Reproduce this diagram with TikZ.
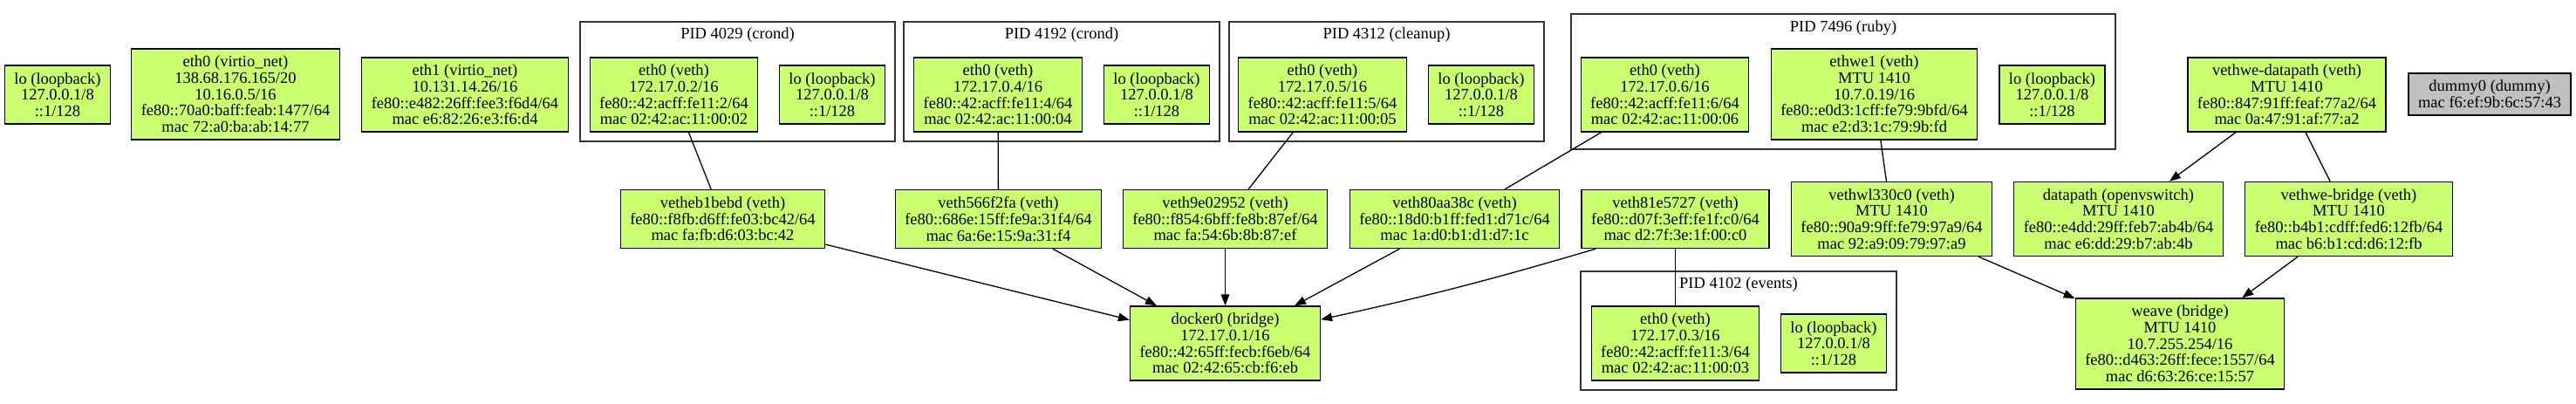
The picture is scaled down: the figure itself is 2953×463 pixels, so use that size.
\documentclass[tikz,border=0pt]{standalone}
\usepackage{fontspec}
\setmainfont{Liberation Serif}
\usepackage{tikz}
\usetikzlibrary{arrows.meta}
\definecolor{ifill}{HTML}{CAFF70}
\definecolor{dfill}{HTML}{C0C0C0}
\definecolor{line}{HTML}{000000}
\definecolor{frame}{HTML}{333333}
\tikzset{
  iface/.style={draw=line, fill=ifill, line width=1.3pt, inner xsep=11pt, inner ysep=0pt,
    align=center, font=\fontsize{18.5}{18.7}\selectfont},
  dummy/.style={iface, fill=dfill},
  l2/.style={minimum height=48pt},
  l3/.style={minimum height=67pt},
  l4/.style={minimum height=85pt},
  l5/.style={minimum height=104pt},
  ns/.style={draw=frame, line width=1.3pt},
  nstitle/.style={inner sep=0pt, font=\fontsize{18.5}{18.7}\selectfont},
  link/.style={draw=line, line width=1.3pt},
  master/.style={link, -{Triangle[length=13pt,width=9.5pt]}},
}
\begin{document}
\begin{tikzpicture}[x=1pt,y=-1pt]
  \useasboundingbox (0,0) rectangle (2953,463);
  % namespaces
  \draw[ns] (665,25) rectangle (1026,162);
  \node[nstitle] (t4029) at (845.5,40) {PID 4029 (crond)};
  \draw[ns] (1036,25) rectangle (1398,162);
  \node[nstitle] (t4192) at (1217,40) {PID 4192 (crond)};
  \draw[ns] (1409,25) rectangle (1770,162);
  \node[nstitle] (t4312) at (1589.5,40) {PID 4312 (cleanup)};
  \draw[ns] (1801,16) rectangle (2425,171);
  \node[nstitle] (t7496) at (2113,32) {PID 7496 (ruby)};
  \draw[ns] (1812,311) rectangle (2174,447);
  \node[nstitle] (t4102) at (1993,326) {PID 4102 (events)};

  % host interfaces
  \node[iface,l3] (lo) at (66,108.5) {lo (loopback)\\127.0.0.1/8\\::1/128};
  \node[iface,l5] (eth0) at (270,108) {eth0 (virtio\_net)\\138.68.176.165/20\\10.16.0.5/16\\fe80::70a0:baff:feab:1477/64\\mac 72:a0:ba:ab:14:77};
  \node[iface,l4] (eth1) at (533,108.5) {eth1 (virtio\_net)\\10.131.14.26/16\\fe80::e482:26ff:fee3:f6d4/64\\mac e6:82:26:e3:f6:d4};
  \node[iface,l4] (vethwedp) at (2621.5,108.5) {vethwe-datapath (veth)\\MTU 1410\\fe80::847:91ff:feaf:77a2/64\\mac 0a:47:91:af:77:a2};
  \node[dummy,l2] (dummy0) at (2854,108) {dummy0 (dummy)\\mac f6:ef:9b:6c:57:43};

  % inside the namespaces
  \node[iface,l4] (eth0a) at (772.5,108.5) {eth0 (veth)\\172.17.0.2/16\\fe80::42:acff:fe11:2/64\\mac 02:42:ac:11:00:02};
  \node[iface,l3] (loa) at (954,108.5) {lo (loopback)\\127.0.0.1/8\\::1/128};
  \node[iface,l4] (eth0b) at (1144,108.5) {eth0 (veth)\\172.17.0.4/16\\fe80::42:acff:fe11:4/64\\mac 02:42:ac:11:00:04};
  \node[iface,l3] (lob) at (1326,108.5) {lo (loopback)\\127.0.0.1/8\\::1/128};
  \node[iface,l4] (eth0c) at (1516,108.5) {eth0 (veth)\\172.17.0.5/16\\fe80::42:acff:fe11:5/64\\mac 02:42:ac:11:00:05};
  \node[iface,l3] (loc) at (1698,108.5) {lo (loopback)\\127.0.0.1/8\\::1/128};
  \node[iface,l4] (eth0d) at (1908.5,108.5) {eth0 (veth)\\172.17.0.6/16\\fe80::42:acff:fe11:6/64\\mac 02:42:ac:11:00:06};
  \node[iface,l5] (ethwe1) at (2148.5,108) {ethwe1 (veth)\\MTU 1410\\10.7.0.19/16\\fe80::e0d3:1cff:fe79:9bfd/64\\mac e2:d3:1c:79:9b:fd};
  \node[iface,l3] (lod) at (2352.5,108.5) {lo (loopback)\\127.0.0.1/8\\::1/128};
  \node[iface,l4] (eth0e) at (1920.5,393.5) {eth0 (veth)\\172.17.0.3/16\\fe80::42:acff:fe11:3/64\\mac 02:42:ac:11:00:03};
  \node[iface,l3] (loe) at (2102,393.5) {lo (loopback)\\127.0.0.1/8\\::1/128};

  % host side of the pairs
  \node[iface,l3] (vetheb) at (828.5,251) {vetheb1bebd (veth)\\fe80::f8fb:d6ff:fe03:bc42/64\\mac fa:fb:d6:03:bc:42};
  \node[iface,l3] (veth566) at (1144.5,251) {veth566f2fa (veth)\\fe80::686e:15ff:fe9a:31f4/64\\mac 6a:6e:15:9a:31:f4};
  \node[iface,l3] (veth9e0) at (1404.5,251) {veth9e02952 (veth)\\fe80::f854:6bff:fe8b:87ef/64\\mac fa:54:6b:8b:87:ef};
  \node[iface,l3] (veth80a) at (1667.5,251) {veth80aa38c (veth)\\fe80::18d0:b1ff:fed1:d71c/64\\mac 1a:d0:b1:d1:d7:1c};
  \node[iface,l3] (veth81e) at (1920.5,251) {veth81e5727 (veth)\\fe80::d07f:3eff:fe1f:c0/64\\mac d2:7f:3e:1f:00:c0};
  \node[iface,l4] (vethwl) at (2168.5,251) {vethwl330c0 (veth)\\MTU 1410\\fe80::90a9:9ff:fe79:97a9/64\\mac 92:a9:09:79:97:a9};
  \node[iface,l4] (datapath) at (2428.5,251) {datapath (openvswitch)\\MTU 1410\\fe80::e4dd:29ff:feb7:ab4b/64\\mac e6:dd:29:b7:ab:4b};
  \node[iface,l4] (vethwebr) at (2692.5,251) {vethwe-bridge (veth)\\MTU 1410\\fe80::b4b1:cdff:fed6:12fb/64\\mac b6:b1:cd:d6:12:fb};

  % bridges
  \node[iface,l4] (docker0) at (1404.5,393.5) {docker0 (bridge)\\172.17.0.1/16\\fe80::42:65ff:fecb:f6eb/64\\mac 02:42:65:cb:f6:eb};
  \node[iface,l5] (weave) at (2499,394) {weave (bridge)\\MTU 1410\\10.7.255.254/16\\fe80::d463:26ff:fece:1557/64\\mac d6:63:26:ce:15:57};

  % veth pairs
  \draw[link] (eth0a) -- (vetheb);
  \draw[link] (eth0b) -- (veth566);
  \draw[link] (eth0c) -- (veth9e0);
  \draw[link] (eth0d) -- (veth80a);
  \draw[link] (veth81e) -- (eth0e);
  \draw[link] (ethwe1) -- (vethwl);
  \draw[link] (vethwedp) -- (vethwebr);

  % bridge ports
  \draw[master] (vetheb) -- (docker0);
  \draw[master] (veth566) -- (docker0);
  \draw[master] (veth9e0) -- (docker0);
  \draw[master] (veth80a) -- (docker0);
  \draw[master] ([xshift=17pt]veth81e.south west) to[bend left=2] (docker0.14);
  \draw[master] (vethwl) -- (weave);
  \draw[master] (vethwebr) -- (weave);
  \draw[master] (vethwedp) -- (datapath);
\end{tikzpicture}
\end{document}
